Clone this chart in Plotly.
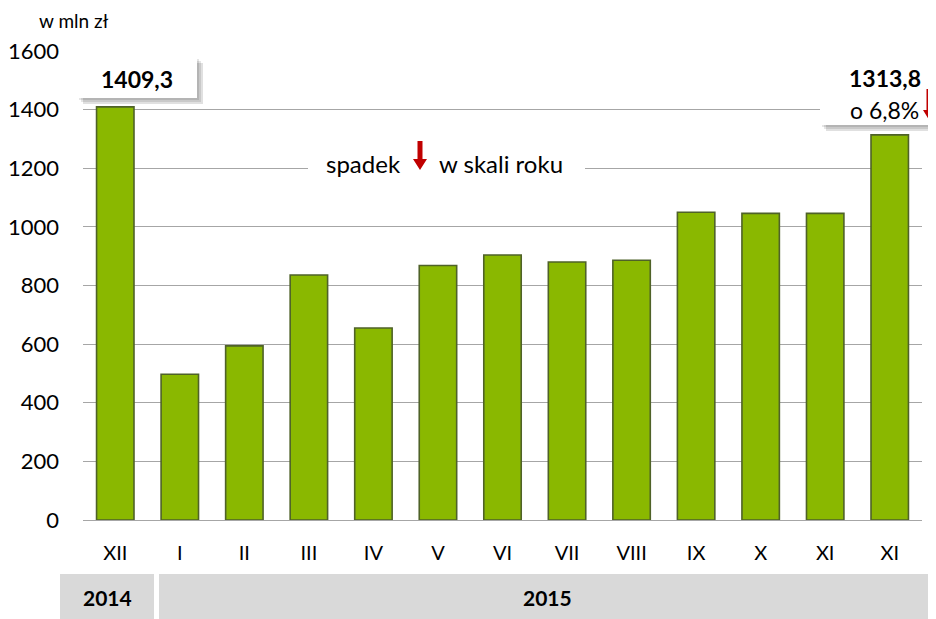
import plotly.graph_objects as go

# ---- data ----
months = ["XII", "I", "II", "III", "IV", "V", "VI", "VII", "VIII", "IX", "X", "XI", "XI"]
values = [1409.3, 497, 594, 836, 655, 868, 904, 880, 886, 1050, 1046, 1046, 1313.8]
years = ["2014", "2015"]
y_ticks = [0, 200, 400, 600, 800, 1000, 1200, 1400, 1600]
first_label = "1409,3"
last_label = "1313,8"
change_label = "o 6,8%"
unit_label = "w mln zł"
middle_left = "spadek"
middle_right = "w skali roku"

PAGE_W, PAGE_H = 936, 619
OFF = 8  # browser body margin
L, R, T, B = 83, 922, 51, 520  # plot area in page pixels
FONT = "Lato"
RED = "#C00000"

def px(x):
    return (x - L) / (R - L)

def py(y):
    return (B - y) / (B - T)

idx = list(range(len(months)))

fig = go.Figure()
fig.add_trace(go.Bar(
    x=idx, y=values,
    marker=dict(color="#8AB800", line=dict(color="#4F6228", width=1.6)),
    width=0.58,
    hoverinfo="y",
))

shapes = []
annotations = []

def box(x0, y0, x1, y1, fill, shadow=True):
    if shadow:
        for i, op in enumerate([0.10, 0.10, 0.12]):
            d = 2 + i * 2
            shapes.append(dict(type="rect", xref="paper", yref="paper",
                               x0=px(x0 + d), x1=px(x1 + d), y0=py(y0 + d), y1=py(y1 + d),
                               fillcolor="black", opacity=op, line=dict(width=0), layer="above"))
    shapes.append(dict(type="rect", xref="paper", yref="paper",
                       x0=px(x0), x1=px(x1), y0=py(y0), y1=py(y1),
                       fillcolor=fill, line=dict(width=0), layer="above"))

def text(x, y, s, size=19, bold=False, color="black", xanchor="center"):
    annotations.append(dict(xref="paper", yref="paper", x=px(x), y=py(y), text=("<b>%s</b>" % s) if bold else s,
                            showarrow=False, xanchor=xanchor, yanchor="middle",
                            font=dict(family=FONT, size=size, color=color)))

def down_arrow(cx, top, bottom, shaft=5, head=14, head_h=11):
    pts = [(cx - shaft / 2, top), (cx + shaft / 2, top), (cx + shaft / 2, bottom - head_h),
           (cx + head / 2, bottom - head_h), (cx, bottom), (cx - head / 2, bottom - head_h),
           (cx - shaft / 2, bottom - head_h)]
    path = "M " + " L ".join("%f,%f" % (px(a), py(b)) for a, b in pts) + " Z"
    shapes.append(dict(type="path", xref="paper", yref="paper", path=path,
                       fillcolor=RED, line=dict(width=0), layer="above"))

# value boxes
box(77, 57, 197, 98, "white")
text(137, 79, first_label, size=23, bold=True)
box(820, 57, 936, 125, "white")
text(885, 78, last_label, size=23, bold=True)
text(921, 110, change_label, size=23, xanchor="right")
down_arrow(929, 89, 120, shaft=5, head=12, head_h=10)

# middle note
box(308, 145, 585, 180, "white", shadow=False)
text(403, 163, middle_left, size=24, xanchor="right")
down_arrow(420, 141, 170)
text(437, 163, middle_right, size=24, xanchor="left")

# unit label
text(37, 20, unit_label, size=19, xanchor="left")

# year bands
shapes.append(dict(type="rect", xref="paper", yref="paper", x0=px(60), x1=px(154), y0=py(574), y1=py(619),
                   fillcolor="#D9D9D9", line=dict(width=0), layer="below"))
shapes.append(dict(type="rect", xref="paper", yref="paper", x0=px(159), x1=px(936), y0=py(574), y1=py(619),
                   fillcolor="#D9D9D9", line=dict(width=0), layer="below"))
text(107, 597, years[0], size=21, bold=True)
text(547, 597, years[1], size=21, bold=True)

fig.update_layout(
    width=PAGE_W - OFF, height=PAGE_H - OFF,
    margin=dict(l=L - OFF, r=PAGE_W - R, t=T - OFF, b=PAGE_H - B, pad=0, autoexpand=False),
    plot_bgcolor="white", paper_bgcolor="white",
    showlegend=False,
    bargap=0.42,
    shapes=shapes, annotations=annotations,
    font=dict(family=FONT, size=20, color="black"),
)
fig.update_xaxes(
    tickmode="array", tickvals=idx, ticktext=months,
    range=[-0.5, len(months) - 0.5],
    showgrid=False, zeroline=False, showline=False, ticks="",
    tickfont=dict(family=FONT, size=20, color="black"),
    ticklabelstandoff=19, automargin=False,
)
fig.update_yaxes(
    range=[0, 1600], tickmode="array", tickvals=y_ticks,
    showgrid=True, gridcolor="#A6A6A6", gridwidth=1.3,
    zeroline=True, zerolinecolor="#A6A6A6", zerolinewidth=1.3,
    showline=False, ticks="",
    tickfont=dict(family=FONT, size=22, color="black"),
    ticklabelstandoff=23, automargin=False,
)

fig.write_html("out.html")
